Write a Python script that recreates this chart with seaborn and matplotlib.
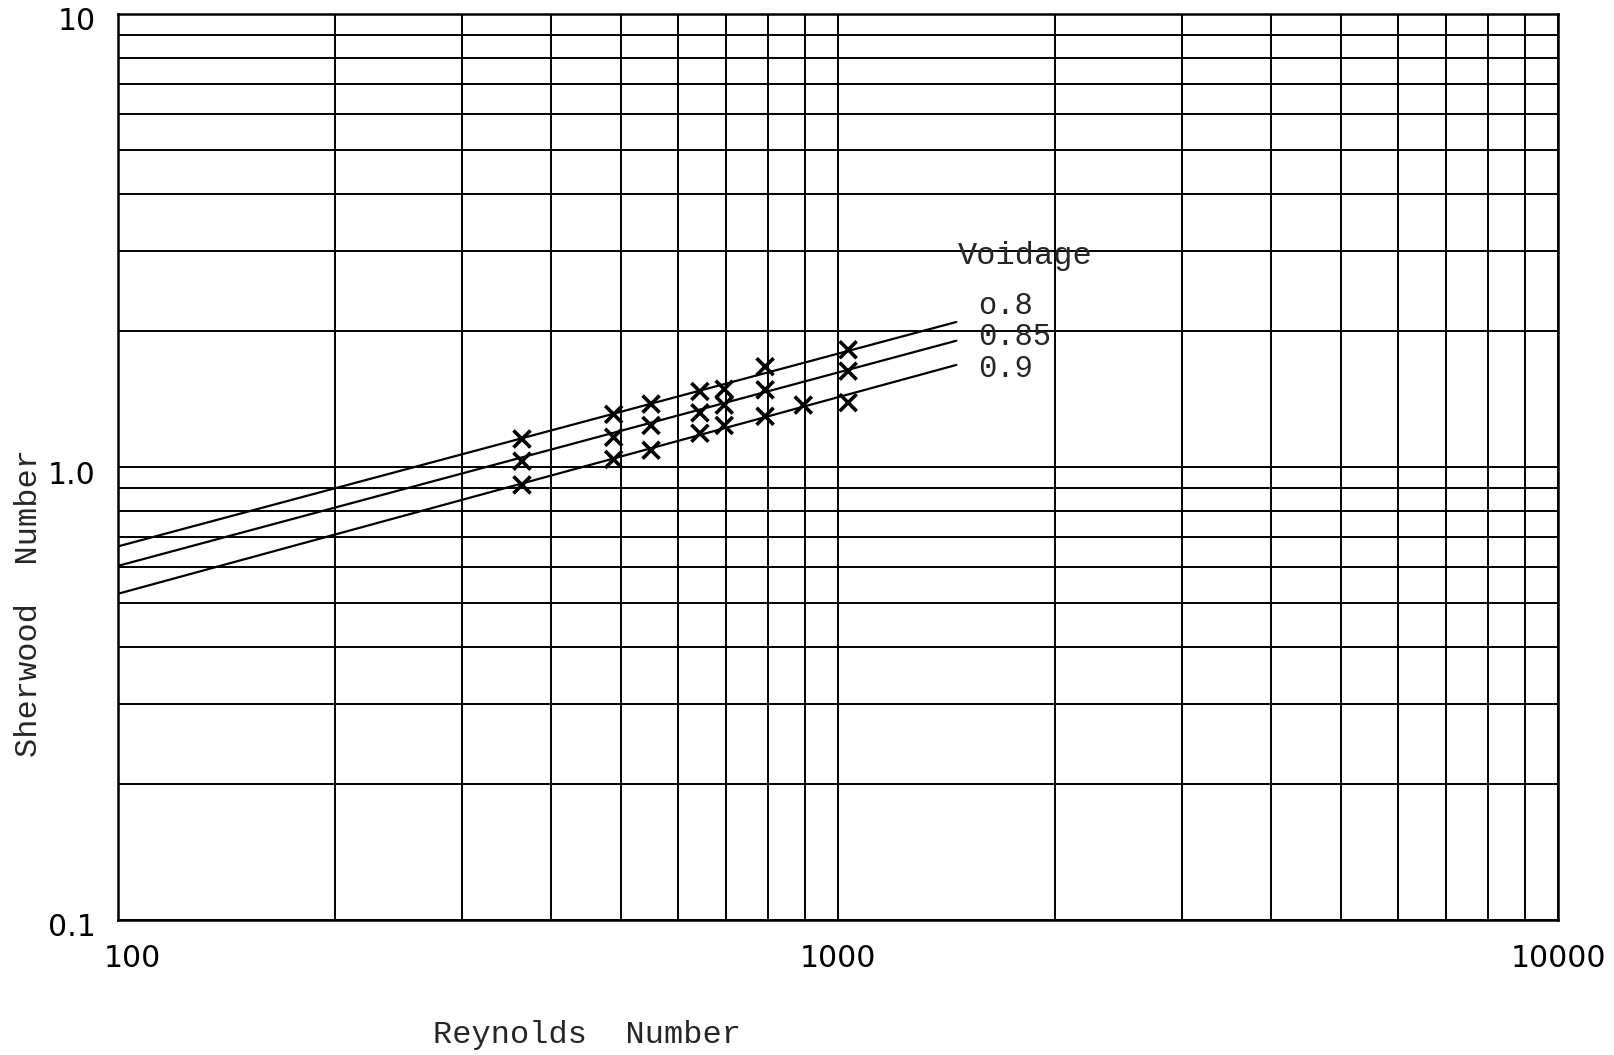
import matplotlib
matplotlib.use("Agg")
import matplotlib.pyplot as plt
import matplotlib.transforms as mtransforms
from matplotlib.ticker import LogLocator, NullFormatter, FixedLocator, FixedFormatter
import seaborn as sns
import pandas as pd

# Measured points (Reynolds number, Sherwood number) for each voidage
re_08 = [364, 488, 550, 643, 695, 792, 1033]
sh_08 = [1.153, 1.307, 1.377, 1.468, 1.485, 1.665, 1.815]

re_085 = [364, 488, 550, 643, 695, 792, 1033]
sh_085 = [1.03, 1.163, 1.235, 1.317, 1.370, 1.480, 1.628]

re_09 = [364, 488, 550, 643, 695, 792, 895, 1033]
sh_09 = [0.913, 1.039, 1.089, 1.187, 1.235, 1.294, 1.370, 1.387]

# Fitted correlation lines (end points on log-log axes)
re_fit = [100, 1460]
fit_08 = [0.668, 2.09]
fit_085 = [0.605, 1.90]
fit_09 = [0.525, 1.68]

voidage_labels = ["o.8", "0.85", "0.9"]
label_sh = [2.27, 1.934, 1.642]

x_ticks = [100, 1000, 10000]
x_tick_labels = ["100", "1000", "10000"]
y_ticks = [0.1, 1.0, 10]
y_tick_labels = ["0.1", "1.0", "10"]

points = pd.concat([
    pd.DataFrame({"Re": re_08, "Sh": sh_08, "voidage": "0.8"}),
    pd.DataFrame({"Re": re_085, "Sh": sh_085, "voidage": "0.85"}),
    pd.DataFrame({"Re": re_09, "Sh": sh_09, "voidage": "0.9"}),
])
fits = pd.concat([
    pd.DataFrame({"Re": re_fit, "Sh": fit_08, "voidage": "0.8"}),
    pd.DataFrame({"Re": re_fit, "Sh": fit_085, "voidage": "0.85"}),
    pd.DataFrame({"Re": re_fit, "Sh": fit_09, "voidage": "0.9"}),
])

sns.set_style("white")
plt.rcParams["font.family"] = ["DejaVu Sans"]
mono = ["Liberation Mono", "DejaVu Sans Mono"]

fig = plt.figure(figsize=(16.15, 10.55), dpi=100)
ax = fig.add_axes([118 / 1615, 1 - 920 / 1055, 1440 / 1615, 906 / 1055])

pal = {"0.8": "black", "0.85": "black", "0.9": "black"}
sns.lineplot(data=fits, x="Re", y="Sh", hue="voidage", palette=pal,
             linewidth=1.6, legend=False, ax=ax, zorder=3)
sns.scatterplot(data=points, x="Re", y="Sh", hue="voidage", palette=pal,
                marker="x", s=150, linewidth=2.6, legend=False, ax=ax, zorder=4)

ax.set_xscale("log")
ax.set_yscale("log")
ax.set_xlim(100, 10000)
ax.set_ylim(0.1, 10)

# Log graph-paper grid
ax.xaxis.set_major_locator(FixedLocator(x_ticks))
ax.xaxis.set_major_formatter(FixedFormatter(x_tick_labels))
ax.yaxis.set_major_locator(FixedLocator(y_ticks))
ax.yaxis.set_major_formatter(FixedFormatter(y_tick_labels))
ax.xaxis.set_minor_locator(LogLocator(base=10, subs=range(2, 10)))
ax.yaxis.set_minor_locator(LogLocator(base=10, subs=range(2, 10)))
ax.xaxis.set_minor_formatter(NullFormatter())
ax.yaxis.set_minor_formatter(NullFormatter())
ax.grid(True, which="both", color="black", linewidth=1.4)
ax.set_axisbelow(True)
ax.tick_params(which="both", length=0, labelsize=21.5, colors="black")
ax.tick_params(axis="x", pad=17)
ax.tick_params(axis="y", pad=16)
for s in ax.spines.values():
    s.set_color("black")
    s.set_linewidth(1.8)

# nudge the first x label right, and the y labels slightly down
first = ax.get_xticklabels()[0]
first.set_transform(first.get_transform() + mtransforms.ScaledTranslation(0.14, 0, fig.dpi_scale_trans))
for lab in ax.get_yticklabels():
    lab.set_transform(lab.get_transform() + mtransforms.ScaledTranslation(0, -0.05, fig.dpi_scale_trans))

ax.set_xlabel("")
ax.set_ylabel("")
fig.text(587 / 1615, 1 - 1035 / 1055, "Reynolds  Number", ha="center", va="center",
         fontsize=23, family=mono)
fig.text(29 / 1615, 1 - 603 / 1055, "Sherwood  Number", ha="center", va="center",
         rotation=90, fontsize=23, family=mono)

ax.text(1468, 2.93, "Voidage", ha="left", va="center", fontsize=23, family=mono,
        zorder=5)
for lab, y in zip(voidage_labels, label_sh):
    ax.text(1567, y, lab, ha="left", va="center", fontsize=22, family=mono, zorder=5)

fig.savefig("out.png", dpi=100, facecolor="white")
